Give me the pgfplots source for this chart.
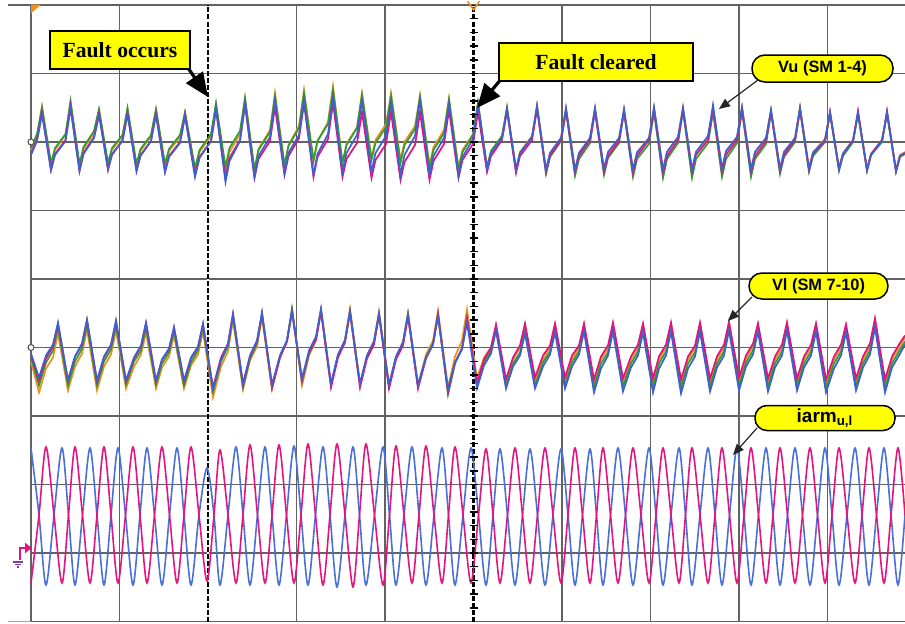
\documentclass[border=0pt]{standalone}
\usepackage{pgfplots}
\pgfplotsset{compat=1.18}
\usepackage{pgfplotstable}
\usepackage{fontspec}
\setmainfont{Liberation Serif}
\newfontfamily\arial{Liberation Sans}
\usetikzlibrary{arrows.meta}
\definecolor{scorange}{HTML}{F0901E}
\definecolor{scgreen}{HTML}{2E9E2E}
\definecolor{scpink}{HTML}{E4127F}
\definecolor{scblue}{HTML}{3D5FD0}
\definecolor{iblue}{HTML}{4A6FD6}
\definecolor{ipink}{HTML}{E2157E}
\definecolor{gridc}{HTML}{626262}
\definecolor{ylw}{HTML}{FFFF00}
\definecolor{gndp}{HTML}{7E3F98}

\pgfplotstableread{
x o g p b
31 -8 -6 -12 -13
37 6 8 3 1
39.5 20 21 16 14
42 35 35 30 28
51 -24 -21 -28 -28
55 -8 -6 -12 -13
65.5 7 8 2 1
68 23 24 19 17
70.5 40 41 36 34
79.5 -25 -22 -29 -29
83.5 -7 -5 -11 -12
94 9 11 5 4
96.5 20 22 17 15
99 32 33 29 27
108 -23 -21 -28 -27
112 -8 -6 -13 -12
122.5 6 7 2 1
125 19 20 15 14
127.5 33 34 29 28
136.5 -24 -22 -29 -29
140.5 -9 -7 -13 -14
151 6 7 1 1
153.5 19 20 15 14
156 32 33 29 27
165 -24 -22 -30 -30
169 -9 -7 -14 -15
180 5 7 0 -1
182.5 17 18 13 12
185 29 30 27 26
195 -28 -26 -33 -35
199.5 -10 -8 -15 -16
211 6 8 1 1
213.5 21 23 16 17
216 37 39 32 34
225.5 -30 -25 -36 -40
229.5 -10 -6 -16 -19
240 8 11 2 1
242.5 26 27 19 20
245 44 44 37 39
254.5 -28 -28 -36 -35
258.5 -7 -8 -17 -14
270 12 10 1 5
272.5 30 28 18 23
275 49 46 35 42
284.5 -24 -23 -33 -31
288.5 -3 -4 -14 -11
299 16 14 4 7
301.5 34 31 21 24
304 52 49 39 42
313.5 -20 -18 -35 -33
317.5 1 1 -15 -12
328 20 18 3 8
330.5 38 35 21 26
333 56 52 39 45
342.5 -21 -21 -35 -30
346.5 -2 -3 -17 -11
357 15 14 -1 7
359.5 32 30 14 24
362 49 47 30 42
371.5 -16 -18 -36 -30
375.5 2 -1 -18 -11
386 18 15 -2 6
388.5 33 30 14 23
391 49 46 30 40
400.5 -18 -21 -38 -33
404.5 0 -3 -20 -13
415 16 13 -3 6
417.5 31 29 13 24
420 47 45 30 42
429.5 -23 -26 -38 -33
433.5 -5 -8 -19 -14
444 12 9 -2 4
446.5 28 25 15 21
449 44 42 32 39
458.5 -25 -28 -36 -34
462.5 -8 -10 -18 -15
473 8 7 -2 3
475.5 23 23 14 20
478 39 39 30 38
487 -25 -25 -30 -27
491 -9 -9 -14 -11
502 6 6 2 4
504.5 20 20 16 18
507 35 34 31 33
516 -27 -28 -31 -28
520 -10 -11 -14 -11
532 6 5 2 5
534.5 21 20 17 20
537 37 35 33 36
546 -28 -32 -30 -28
550 -11 -15 -14 -11
561 4 1 2 4
563.5 19 16 16 19
566 34 31 31 34
575 -28 -34 -30 -28
579 -11 -17 -14 -11
590 4 -1 2 4
592.5 19 15 16 19
595 34 31 31 34
604 -28 -33 -30 -27
608 -11 -16 -14 -10
619 3 -1 1 4
621.5 17 14 16 18
624 32 30 31 33
633 -28 -35 -31 -28
637 -10 -17 -14 -11
649 4 -2 2 4
651.5 19 14 17 19
654 34 30 32 35
663 -28 -36 -31 -28
667 -10 -17 -14 -10
678 5 -1 2 5
680.5 20 15 17 19
683 35 31 32 34
692 -28 -36 -30 -28
696 -10 -17 -13 -10
708 5 -1 2 6
710.5 19 14 17 21
713 34 30 33 37
722 -27 -35 -30 -27
726 -10 -17 -13 -9
737 5 -1 2 5
739.5 20 15 17 20
742 35 31 32 35
751 -27 -35 -30 -28
755 -10 -17 -14 -10
766 4 -2 1 4
768.5 18 14 15 18
771 32 30 30 32
780 -27 -32 -29 -27
784 -10 -15 -13 -10
795 4 0 2 4
797.5 19 16 17 19
800 35 32 33 34
809 -26 -30 -28 -27
813 -10 -14 -12 -11
825 3 0 1 2
827.5 16 14 15 16
830 29 28 30 30
839 -26 -29 -27 -27
843 -11 -14 -12 -12
853 2 0 2 1
855.5 15 14 16 15
858 29 28 31 29
867 -27 -29 -28 -28
871 -12 -13 -12 -13
882 2 0 2 1
884.5 15 14 16 15
887 29 28 31 30
896 -28 -30 -29 -29
900 -13 -15 -14 -14
905 -10 -12 -11 -11
}\vu

\pgfplotstableread{
x o g p b
31 -14 -10 -7 -6
39 -45 -38 -33 -30
46 -21 -15 -11 -8
53 -10 -3 1 3
58 14 20 23 25
68 -43 -38 -33 -33
75 -19 -14 -9 -9
82 -6 -1 3 4
87 18 23 27 28
97 -43 -38 -34 -33
104 -19 -14 -10 -9
111 -7 -2 2 3
116 17 22 26 27
126 -41 -37 -34 -33
134 -19 -14 -11 -10
141 -7 -3 1 2
146 15 20 24 25
156 -41 -37 -34 -33
162 -20 -16 -12 -12
169 -9 -5 -2 -1
174 12 16 20 20
184 -41 -38 -34 -33
191 -18 -15 -11 -10
198 -7 -3 0 1
203 16 20 23 24
213 -50 -44 -40 -42
221 -19 -14 -10 -12
228 -4 1 4 3
233 27 31 34 33
243 -42 -40 -37 -36
250 -13 -11 -9 -8
257 1 4 6 7
262 30 33 34 35
272 -42 -40 -40 -37
280 -10 -8 -10 -8
287 6 7 6 7
292 38 39 36 36
302 -38 -34 -33 -31
309 -8 -6 -5 -3
316 7 9 8 11
321 37 37 36 39
331 -38 -37 -40 -36
338 -7 -8 -10 -7
345 8 7 5 7
350 39 36 35 36
360 -37 -37 -40 -36
367 -8 -9 -11 -8
374 7 5 3 6
379 36 33 32 34
389 -38 -39 -41 -37
396 -9 -10 -12 -9
403 6 4 2 5
408 35 33 31 33
418 -37 -39 -41 -38
426 -7 -10 -11 -10
433 7 4 3 3
438 37 33 33 31
448 -40 -47 -45 -42
455 -9 -16 -15 -15
462 7 -1 -1 -2
467 38 30 29 25
477 -31 -37 -35 -41
484 -10 -15 -12 -18
491 0 -3 0 -6
496 21 19 23 17
506 -34 -39 -32 -41
513 -12 -16 -10 -19
520 0 -5 2 -8
525 22 18 24 14
535 -34 -38 -30 -41
543 -12 -15 -8 -19
550 0 -4 2 -7
555 22 19 24 15
565 -34 -38 -30 -41
572 -12 -15 -8 -19
579 0 -4 2 -7
584 22 19 24 16
594 -36 -40 -32 -45
601 -12 -16 -9 -21
608 -1 -5 2 -8
613 23 19 25 16
623 -35 -39 -31 -44
631 -12 -16 -9 -20
638 0 -4 3 -8
643 22 18 24 15
653 -35 -40 -31 -45
659 -12 -16 -9 -21
666 0 -4 3 -8
671 23 19 25 16
681 -36 -40 -32 -46
688 -12 -16 -9 -21
695 -1 -5 2 -9
700 23 19 25 16
710 -35 -39 -31 -44
717 -12 -16 -9 -20
724 0 -4 3 -8
729 26 20 25 17
739 -34 -38 -30 -43
746 -11 -15 -8 -19
753 1 -3 4 -7
758 23 19 24 16
768 -35 -39 -31 -44
775 -12 -16 -9 -20
782 0 -4 3 -8
787 24 20 25 17
797 -35 -39 -31 -43
804 -12 -16 -9 -20
811 0 -4 3 -8
816 23 19 24 16
826 -36 -40 -32 -45
834 -12 -16 -9 -21
841 0 -4 3 -8
846 22 18 23 15
856 -35 -39 -31 -43
863 -12 -16 -9 -20
870 1 -3 4 -7
875 28 24 29 20
885 -36 -40 -32 -45
892 -12 -16 -9 -20
899 0 -4 3 -8
905 10 6 12 3
}\vl

\pgfplotstableread{
x b p
31 67 -68
39 0 0
46 -70 68
54 0 0
62 67 -68
68.5 0 0
75 -70 68
82.5 0 0
90 67 -68
97 0 0
104 -70 68
111 0 0
118 67 -68
125.5 0 0
133 -70 68
140 0 0
147 67 -68
154.5 0 0
162 -70 68
169.5 0 0
177 67 -68
184 0 0
191 -70 68
199 0 0
207 47 -66
214 0 0
220 -70 65
228 0 0
236 68 -68
243 0 0
250 -70 70
257.5 0 0
265 68 -68
272 0 0
279 -70 70
286.5 0 0
294 69 -68
301 0 0
308 -70 71
315.5 0 0
323 68 -70
330 0 0
337 -72 71
345 0 0
353 68 -72
359.5 0 0
366 -70 71
374.5 0 0
383 68 -70
389.5 0 0
396 -70 69
404 0 0
412 68 -68
419 0 0
426 -70 69
434 0 0
442 67 -68
448.5 0 0
455 -70 68
463 0 0
471 67 -68
478.5 0 0
486 -70 66
493 0 0
500 66 -68
507.5 0 0
515 -70 67
522.5 0 0
530 66 -68
537.5 0 0
545 -70 67
553 0 0
561 66 -68
568 0 0
575 -70 67
582.5 0 0
590 66 -68
596.5 0 0
603 -70 67
610.5 0 0
618 67 -68
625.5 0 0
633 -70 67
641 0 0
649 67 -68
656 0 0
663 -70 67
671 0 0
679 67 -68
685.5 0 0
692 -70 67
700 0 0
708 67 -68
715 0 0
722 -70 67
729.5 0 0
737 67 -68
744 0 0
751 -70 67
758.5 0 0
766 67 -68
773 0 0
780 -70 67
787.5 0 0
795 67 -68
802.5 0 0
810 -70 67
817.5 0 0
825 67 -68
832 0 0
839 -70 67
847 0 0
855 67 -68
862 0 0
869 -70 67
876.5 0 0
884 67 -68
891 0 0
898 -70 67
905 0 0
}\iarm

\begin{document}
\begin{tikzpicture}
\begin{axis}[name=ax, scale only axis, width=437pt, height=308.25pt,
  xmin=31, xmax=905, ymin=1.5, ymax=618,
  axis line style={draw=none},
  xtick={31,119.5,208,296.5,385,473.5,562,650.5,739,827.5},
  ytick={1.5,70,138.5,207,275.5,344,412.5,481,549.5,618},
  xticklabels={}, yticklabels={}, major tick length=0pt,
  grid=major, grid style={gridc, line width=0.7pt},
  clip=false]
% extra border pieces
\addplot[gridc, line width=0.7pt] coordinates {(8,618) (31,618)};
\addplot[black!35, line width=0.5pt] coordinates {(8,1.5) (31,1.5)};
% fault lines
\addplot[white, line width=1.4pt] coordinates {(208,1.5) (208,618)};
\addplot[black, line width=1.1pt, dash pattern=on 2.5pt off 1pt] coordinates {(208,1.5) (208,618)};
\addplot[white, line width=1.4pt] coordinates {(473.5,1.5) (473.5,618)};
\addplot[black, line width=1.1pt, dash pattern=on 2.5pt off 1pt] coordinates {(473.5,1.5) (473.5,618)};
\addplot[only marks, mark=-, mark size=2pt, mark options={black, line width=0.7pt}] coordinates {
(473.5,15.2) (473.5,28.9) (473.5,42.6) (473.5,56.3) (473.5,70) (473.5,83.7) (473.5,97.4) (473.5,111.1) (473.5,124.8) (473.5,138.5)
(473.5,152.2) (473.5,165.9) (473.5,179.6) (473.5,193.3) (473.5,207) (473.5,220.7) (473.5,234.4) (473.5,248.1) (473.5,261.8) (473.5,275.5)
(473.5,289.2) (473.5,302.9) (473.5,316.6) (473.5,330.3) (473.5,344) (473.5,357.7) (473.5,371.4) (473.5,385.1) (473.5,398.8) (473.5,412.5)
(473.5,426.2) (473.5,439.9) (473.5,453.6) (473.5,467.3) (473.5,481) (473.5,494.7) (473.5,508.4) (473.5,522.1) (473.5,535.8) (473.5,549.5)
(473.5,563.2) (473.5,576.9) (473.5,590.6) (473.5,604.3)};
% Vu traces
\addplot[scorange, line width=0.85pt] table[x=x, y expr=\thisrow{o}+481] {\vu};
\addplot[scgreen, line width=0.85pt] table[x=x, y expr=\thisrow{g}+481] {\vu};
\addplot[scpink, line width=0.85pt] table[x=x, y expr=\thisrow{p}+481] {\vu};
\addplot[scblue, line width=0.85pt] table[x=x, y expr=\thisrow{b}+481] {\vu};
% Vl traces
\addplot[scorange, line width=0.85pt] table[x=x, y expr=\thisrow{o}+275.5] {\vl};
\addplot[scgreen, line width=0.85pt] table[x=x, y expr=\thisrow{g}+275.5] {\vl};
\addplot[scpink, line width=0.85pt] table[x=x, y expr=\thisrow{p}+275.5] {\vl};
\addplot[scblue, line width=0.85pt] table[x=x, y expr=\thisrow{b}+275.5] {\vl};
% arm currents
\addplot[iblue, line width=0.8pt, smooth] table[x=x, y expr=\thisrow{b}+108] {\iarm};
\addplot[ipink, line width=0.8pt, smooth] table[x=x, y expr=\thisrow{p}+108] {\iarm};
% channel markers
\addplot[only marks, mark=*, mark size=1.5pt, mark options={fill=white, draw=black!70, line width=0.5pt}] coordinates {(31,481) (31,275.5)};
\addplot[scorange, fill=scorange, line width=0.3pt] coordinates {(31,618) (40,618) (31,610)};
\addplot[scorange, line width=0.7pt] coordinates {(467.5,622) (473.5,613) (479.5,622)};
% ground / reference marker
\addplot[scpink, line width=0.8pt] coordinates {(20,63) (20,75) (25,75)};
\addplot[scpink, fill=scpink, line width=0.3pt] coordinates {(25,80) (31,75) (25,70)};
\addplot[gndp, line width=0.8pt] coordinates {(13,61) (23,61)};
\addplot[gndp, line width=0.8pt] coordinates {(15,58.5) (21,58.5)};
\addplot[gndp, line width=0.8pt] coordinates {(17,56) (19,56)};
% arrows
\addplot[black, line width=1.6pt, -{Triangle[length=12pt,width=10pt]}] coordinates {(186,558) (208,526)};
\addplot[black, line width=1.6pt, -{Triangle[length=12pt,width=10pt]}] coordinates {(502,545) (477,515)};
\addplot[black!85, line width=0.6pt, -{Triangle[length=5.5pt,width=4.5pt]}] coordinates {(758,543) (719,514)};
\addplot[black!85, line width=0.6pt, -{Triangle[length=5.5pt,width=4.5pt]}] coordinates {(752,326) (728,302)};
\addplot[black!85, line width=0.6pt, -{Triangle[length=5.5pt,width=4.5pt]}] coordinates {(757,195) (733,168)};
% callouts
\node[draw=black, line width=0.75pt, fill=ylw, minimum width=70pt, minimum height=19pt, inner sep=0pt, font=\fontsize{10.8}{13}\selectfont\bfseries] at (axis cs:120,573) {Fault occurs};
\node[draw=black, line width=0.75pt, fill=ylw, minimum width=97pt, minimum height=19pt, inner sep=0pt, font=\fontsize{10.8}{13}\selectfont\bfseries] at (axis cs:596,561) {Fault cleared};
\node[draw=black, line width=0.75pt, fill=ylw, rounded corners=6.5pt, minimum width=70.5pt, minimum height=13.5pt, inner sep=0pt, font=\arial\fontsize{8.2}{10}\selectfont\bfseries] at (axis cs:822.5,554.5) {Vu (SM 1-4)};
\node[draw=black, line width=0.75pt, fill=ylw, rounded corners=6.5pt, minimum width=69.5pt, minimum height=13pt, inner sep=0pt, font=\arial\fontsize{8.2}{10}\selectfont\bfseries] at (axis cs:818.5,337) {Vl (SM 7-10)};
\node[draw=black, line width=0.75pt, fill=ylw, rounded corners=6pt, minimum width=70pt, minimum height=12.5pt, inner sep=0pt, font=\arial\fontsize{9.5}{10}\selectfont\bfseries] at (axis cs:825,205) {iarm\textsubscript{u,l}};
\end{axis}
\pgfresetboundingbox
\path[use as bounding box] ([xshift=-15.5pt,yshift=-0.75pt]ax.south west) rectangle ([yshift=2.5pt]ax.north east);
\end{tikzpicture}
\end{document}
